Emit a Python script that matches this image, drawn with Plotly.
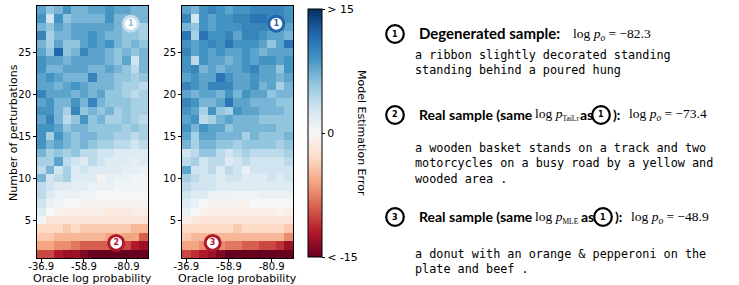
import plotly.graph_objects as go

# ---------------- data ----------------
logp_bins = [-36.9, -41.3, -45.7, -50.1, -54.5, -58.9, -63.3, -67.7, -72.1, -76.5, -80.9, -85.3, -89.7]
n_perturbations = [1, 2, 3, 4, 5, 6, 7, 8, 9, 10, 11, 12, 13, 14, 15,
                   16, 17, 18, 19, 20, 21, 22, 23, 24, 25, 26, 27, 28, 29, 30]
x_tick_vals = [-36.9, -58.9, -80.9]
x_tick_text = ["-36.9", "-58.9", "-80.9"]
y_tick_vals = [5, 10, 15, 20, 25]
cbar_tick_vals = [-15, 0, 15]
cbar_tick_text = ["< -15", "0", "> 15"]

# rows: number of perturbations 1..30 (bottom to top), columns: logp_bins
err_tailr = [
    [-10, -10, -12, -13, -13, -14, -15, -15, -15, -15, -15, -15, -15],
    [-6, -6, -7, -7, -8, -9, -9, -9, -9, -10, -10, -12, -13],
    [-4, -4, -5, -5, -5, -5, -5, -5, -6, -5, -6, -6, -9],
    [-3, -3, -3, -4, -3, -4, -4, -4, -4, -4, -4, -5, -5],
    [0.5, -2, -2, -2, -2, -2, -2, -2, -2, -2, -2, -2, -2],
    [2, 0, -0.5, -1, -1, -1, -1, -1, -1.5, -1.5, -1.5, -1, -1],
    [3, 1, 0.5, 0, 0, -0.5, -0.5, -0.5, -0.5, -0.5, -0.5, -0.5, -0.5],
    [4, 2, 1, 1, 1, 0.5, 0.5, 0, 0, 0, 0, 0, 0],
    [4, 3, 2, 2, 1.5, 1.5, 1, 1, 1, 0.5, 0.5, 0.5, 0.5],
    [7, 3, 4, 5, 2, 2, 2, -0.5, 1.5, 1, 1, 0.5, 0.5],
    [4, 7, 3, 5, 2, 3, 2, 2, 2, 2, 1.5, 1.5, 1],
    [5, 5, 8, 4, 3, 2, 4, 3, 2, 2, 2, 1.5, 2],
    [7, 5, 6, 5, 6, 4, 4, 3, 3, 2, 2, 2, 2],
    [9, 7, 8, 7, 6, 7, 6, 5, 5, 4, 4, 3, 4],
    [9, 5, 9, 7, 6, 7, 7, 6, 6, 5, 5, 4, 5],
    [9, 9, 8, 6, 7, 7, 6, 6, 6, 6, 5, 6, 5],
    [8, 10, 7, 4, 6, 9, 6, 7, 5, 5, 6, 5, 4],
    [9, 9, 7, 5, 10, 6, 7, 6, 7, 5, 6, 5, 5],
    [8, 9, 7, 7, 9, 7, 10, 7, 6, 6, 6, 5, 5],
    [10, 8, 8, 8, 7, 8, 7, 8, 6, 6, 5, 4, 5],
    [8, 8, 7, 8, 9, 8, 7, 7, 7, 6, 5, 5, 4],
    [8, 9, 8, 7, 7, 7, 10, 7, 7, 6, 6, 5, 6],
    [9, 7, 7, 8, 8, 8, 7, 7, 8, 7, 6, 4, 7],
    [9, 8, 8, 7, 8, 8, 8, 8, 7, 6, 8, 3, 7],
    [8, 6, 12, 6, 7, 10, 8, 8, 7, 6, 7, 6, 7],
    [7, 5, 8, 6, 6, 8, 9, 8, 9, 7, 6, 7, 6],
    [10, 5, 7, 7, 8, 8, 9, 8, 7, 7, 6, 6, 5],
    [7, 6, 8, 7, 8, 8, 8, 8, 8, 7, 6, 6, 5],
    [9, 3, 9, 6, 7, 7, 7, 7, 9, 7, 7, 7, 7],
    [8, 6, 7, 9, 7, 7, 8, 8, 9, 8, 8, 7, 7],
]

err_mle = [
    [-10, -11, -12, -13, -14, -15, -15, -15, -15, -15, -15, -15, -15],
    [-6, -6, -7, -7, -7, -8, -8, -9, -9, -10, -10, -11, -13],
    [-4, -5, -5, -5, -5, -5, -5, -5, -5, -5, -5, -5, -7],
    [-3, -3, -3, -3, -3, -3, -4, -3, -3, -3, -3, -3, -4],
    [-1, -1.5, -2, -2, -2, -2, -2, -2, -2, -2, -2, -2, -2],
    [1, 0, -0.5, -1, -1, -1, -1, -1, -1, -1, -1, -0.5, -1],
    [2, 1, 0, -0.5, -0.5, -0.5, -0.5, -0.5, 0, 0, 0, 0, 0],
    [3, 2, 2, 1, 1, 1, 0.5, 0.5, 0.5, 1, 1, 1, 1],
    [4, 3, 3, 3, 2, 2, 2, 2, 2, 2, 2, 2, 2],
    [5, 4, 3, 3, 2, 3, 3, 2, 2, 2, 3, 2, 3],
    [8, 3, 3, 4, 2, 4, 3, 1, 3, 3, 3, 3, 3],
    [4, 5, 3, 4, 4, 2, 3, 4, 3, 3, 3, 3, 4],
    [3, 4, 6, 6, 4, 3, 4, 5, 4, 4, 4, 4, 5],
    [7, 5, 7, 7, 6, 6, 5, 6, 6, 6, 6, 5, 6],
    [8, 5, 8, 8, 7, 7, 7, 5, 7, 6, 6, 6, 7],
    [9, 7, 9, 8, 8, 6, 7, 7, 7, 7, 7, 6, 6],
    [8, 9, 4, 5, 7, 8, 7, 7, 7, 6, 6, 6, 6],
    [9, 8, 5, 9, 6, 5, 9, 8, 8, 7, 7, 7, 6],
    [10, 9, 7, 7, 8, 11, 8, 8, 7, 7, 7, 6, 6],
    [8, 7, 8, 8, 7, 9, 7, 9, 8, 8, 6, 7, 7],
    [10, 9, 8, 10, 10, 10, 8, 8, 9, 7, 8, 5, 7],
    [8, 9, 8, 8, 11, 9, 8, 8, 9, 8, 8, 7, 8],
    [9, 10, 7, 8, 7, 8, 8, 9, 10, 8, 8, 6, 9],
    [9, 4, 9, 8, 8, 7, 8, 9, 8, 9, 9, 8, 9],
    [10, 8, 9, 8, 9, 8, 8, 9, 8, 7, 8, 8, 8],
    [9, 8, 9, 10, 9, 11, 9, 9, 9, 8, 6, 8, 11],
    [11, 5, 11, 9, 9, 10, 8, 10, 10, 9, 8, 8, 7],
    [7, 6, 9, 8, 9, 9, 9, 10, 10, 10, 9, 9, 8],
    [10, 3, 9, 8, 9, 9, 10, 10, 11, 11, 10, 10, 9],
    [8, 7, 9, 10, 9, 8, 9, 9, 10, 10, 10, 10, 9],
]

# callout markers on the heatmaps: label, log prob, perturbations
callouts_tailr_labels = ["1", "2"]
callouts_tailr_x = [-83.0, -75.5]
callouts_tailr_y = [28.4, 2.3]
callouts_mle_labels = ["1", "3"]
callouts_mle_x = [-83.3, -50.5]
callouts_mle_y = [28.4, 2.3]

sample_titles = ["Degenerated sample:", "Real sample (same", "Real sample (same"]
sample_logp = ["\u221282.3", "\u221273.4", "\u221248.9"]
sample_texts = [
    "a ribbon slightly decorated standing<br>standing behind a poured hung",
    "a wooden basket stands on a track and two<br>motorcycles on a busy road by a yellow and<br>wooded area .",
    "a donut with an orange &amp; pepperoni on the<br>plate and beef .",
]

# ---------------- styling ----------------
W, H = 739, 285
def px(x):
    return x / W
def py(y):
    return 1 - y / H

rdbu = [
    [0.0, "#67001f"], [0.1, "#b2182b"], [0.2, "#d6604d"], [0.3, "#f4a582"],
    [0.4, "#fddbc7"], [0.5, "#f7f7f7"], [0.6, "#d1e5f0"], [0.7, "#92c5de"],
    [0.8, "#4393c3"], [0.9, "#2166ac"], [1.0, "#053061"],
]

SANS = "DejaVu Sans"
HEAD = "Lato"
SERIF = "Liberation Serif"
MONO = "DejaVu Sans Mono"

fig = go.Figure()

fig.add_trace(go.Heatmap(x=logp_bins, y=n_perturbations, z=err_tailr,
                         coloraxis="coloraxis", xaxis="x", yaxis="y", hoverinfo="skip"))
fig.add_trace(go.Heatmap(x=logp_bins, y=n_perturbations, z=err_mle,
                         coloraxis="coloraxis", xaxis="x2", yaxis="y2", hoverinfo="skip"))

def callout_trace(labels, xs, ys, xa, ya, rings, texts):
    return go.Scatter(
        x=xs, y=ys, text=labels, mode="markers+text", xaxis=xa, yaxis=ya,
        marker=dict(size=15, color="white", line=dict(width=3, color=rings)),
        textposition="middle center",
        textfont=dict(family=SANS, size=8, color=texts, weight="bold"),
        hoverinfo="skip", showlegend=False, cliponaxis=False)

fig.add_trace(callout_trace(callouts_tailr_labels, callouts_tailr_x, callouts_tailr_y, "x", "y",
                            ["#c6def0", "#b2182b"], ["#8fc0df", "#b2182b"]))
fig.add_trace(callout_trace(callouts_mle_labels, callouts_mle_x, callouts_mle_y, "x2", "y2",
                            ["#2166ac", "#b2182b"], ["#2166ac", "#b2182b"]))

axis_common = dict(showline=True, linecolor="black", linewidth=1, mirror=True,
                   ticks="outside", ticklen=3, tickcolor="black", showgrid=False,
                   zeroline=False, automargin=False,
                   tickfont=dict(family=SANS, size=10, color="black"))
xr = [logp_bins[0] + 2.2, logp_bins[-1] - 2.2]
yr = [0.5, 30.5]
ydom = [py(258), py(6)]

fig.update_layout(
    width=W, height=H, margin=dict(l=0, r=0, t=0, b=0, pad=0, autoexpand=False),
    paper_bgcolor="white", plot_bgcolor="white", showlegend=False,
    xaxis=dict(domain=[px(37), px(148)], range=xr, tickvals=x_tick_vals, ticktext=x_tick_text,
               anchor="y", ticklabelstandoff=-4, **axis_common),
    yaxis=dict(domain=ydom, range=yr, tickvals=y_tick_vals, anchor="x", **axis_common),
    xaxis2=dict(domain=[px(182), px(293)], range=xr, tickvals=x_tick_vals, ticktext=x_tick_text,
                anchor="y2", ticklabelstandoff=-4, **axis_common),
    yaxis2=dict(domain=ydom, range=yr, tickvals=y_tick_vals, anchor="x2", **axis_common),
    coloraxis=dict(
        colorscale=rdbu, cmin=-15, cmax=15,
        colorbar=dict(x=px(308), xanchor="left", xpad=0, y=py(133), yanchor="middle", ypad=0,
                      thickness=14, thicknessmode="pixels", len=248, lenmode="pixels",
                      outlinewidth=1, outlinecolor="black",
                      tickvals=cbar_tick_vals, ticktext=cbar_tick_text,
                      ticks="outside", ticklen=3, tickcolor="black",
                      tickfont=dict(family=SANS, size=11, color="black")),
    ),
)

annotations = []
shapes = []

# axis titles
for cx in (92.5, 237.5):
    annotations.append(dict(x=px(cx), y=py(278), xref="paper", yref="paper", text="Oracle log probability",
                            showarrow=False, font=dict(family=SANS, size=11, color="black"),
                            xanchor="center", yanchor="middle"))
annotations.append(dict(x=px(13), y=py(133), xref="paper", yref="paper", text="Number of perturbations",
                        textangle=-90, showarrow=False, font=dict(family=SANS, size=11, color="black"),
                        xanchor="center", yanchor="middle"))
# colorbar title
annotations.append(dict(x=px(362), y=py(133), xref="paper", yref="paper", text="Model Estimation Error",
                        textangle=90, showarrow=False, font=dict(family=SANS, size=11, color="black"),
                        xanchor="center", yanchor="middle"))

def circled(cx, cy, label, r=8.8):
    shapes.append(dict(type="circle", xref="paper", yref="paper",
                       x0=px(cx - r), x1=px(cx + r), y0=py(cy + r), y1=py(cy - r),
                       line=dict(color="black", width=2.2), fillcolor="white"))
    annotations.append(dict(x=px(cx), y=py(cy), xref="paper", yref="paper", text="<b>" + label + "</b>",
                            showarrow=False, font=dict(family=SANS, size=8, color="black"),
                            xanchor="center", yanchor="middle"))

def txt(x, y, s, family, size, bold=False):
    annotations.append(dict(x=px(x), y=py(y), xref="paper", yref="paper",
                            text=("<b>" + s + "</b>") if bold else s, showarrow=False,
                            font=dict(family=family, size=size, color="black"),
                            xanchor="left", yanchor="middle", align="left"))

def logp(sub, sub_px):
    return ("log <i>p</i><sub><span style=\"font-size:%gpx\">" % sub_px) + sub + "</span></sub>"

MS = 13.5  # math size

# sample 1
circled(395, 34, "1")
txt(417, 33, sample_titles[0], HEAD, 15, bold=True)
txt(571, 34, logp("<i>o</i>", 9.5) + " = " + sample_logp[0], SERIF, MS)
txt(413, 62, sample_texts[0], MONO, 11.8)

# sample 2
circled(395, 115, "2")
txt(417, 114, sample_titles[1], HEAD, 14, bold=True)
txt(533, 115, logp("TaiLr", 7.5), SERIF, MS)
txt(578, 114, "as", HEAD, 14, bold=True)
circled(601, 115, "1")
txt(611, 114, "):", HEAD, 14, bold=True)
txt(627, 115, logp("<i>o</i>", 9.5) + " = " + sample_logp[1], SERIF, MS)
txt(413, 163, sample_texts[1], MONO, 11.8)

# sample 3
circled(395, 217, "3")
txt(417, 216, sample_titles[2], HEAD, 14, bold=True)
txt(533, 217, logp("MLE", 7.5), SERIF, MS)
txt(579, 216, "as", HEAD, 14, bold=True)
circled(603, 217, "1")
txt(613, 216, "):", HEAD, 14, bold=True)
txt(629, 217, logp("<i>o</i>", 9.5) + " = " + sample_logp[2], SERIF, MS)
txt(413, 261, sample_texts[2], MONO, 11.8)

fig.update_layout(annotations=annotations, shapes=shapes)
fig.write_html("out.html", config={"displayModeBar": False},
               post_script="document.body.style.margin='0';document.body.style.overflow='hidden';")
